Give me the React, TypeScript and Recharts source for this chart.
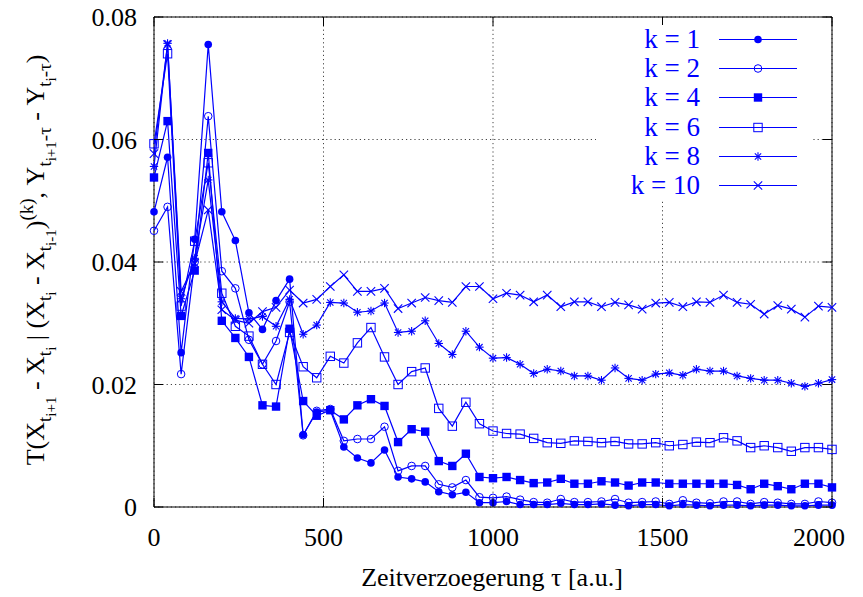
import React from 'react';
import { LineChart, Line, XAxis, YAxis, CartesianGrid, Legend, ReferenceArea } from 'recharts';

const tau = [
  0, 40, 80, 120, 160, 200, 240, 280, 320, 360, 400, 440, 480, 520, 560, 600, 640, 680, 720, 760,
  800, 840, 880, 920, 960, 1000, 1040, 1080, 1120, 1160, 1200, 1240, 1280, 1320, 1360, 1400, 1440,
  1480, 1520, 1560, 1600, 1640, 1680, 1720, 1760, 1800, 1840, 1880, 1920, 1960, 2000,
];

const k1 = [
  0.0482, 0.0571, 0.0252, 0.0437, 0.0755, 0.0482, 0.0435, 0.0317, 0.029, 0.0337, 0.0372,
  0.0118, 0.0155, 0.0158, 0.0098, 0.008, 0.0072, 0.0093, 0.0049, 0.0046, 0.0041,
  0.0025, 0.002, 0.0024, 0.0007, 0.0007, 0.0009, 0.0004, 0.0004, 0.0004, 0.0006,
  0.0004, 0.0004, 0.0005, 0.0003, 0.0002, 0.0004, 0.0004, 0.0002, 0.0004, 0.0003,
  0.0002, 0.0003, 0.0003, 0.0002, 0.0003, 0.0003, 0.0002, 0.0002, 0.0003, 0.0003,
];
const k2 = [
  0.0451, 0.049, 0.0217, 0.04, 0.0638, 0.0385, 0.0357, 0.0273, 0.0233, 0.0271, 0.0335,
  0.0117, 0.0157, 0.016, 0.0108, 0.0111, 0.0111, 0.0131, 0.0059, 0.0067, 0.0067,
  0.0037, 0.0032, 0.0044, 0.0016, 0.0015, 0.0017, 0.0012, 0.0008, 0.0007, 0.0013,
  0.0008, 0.0008, 0.0009, 0.0013, 0.0007, 0.0008, 0.0009, 0.0005, 0.0011, 0.0007,
  0.0006, 0.0009, 0.0009, 0.0005, 0.0008, 0.0007, 0.0005, 0.0005, 0.0009, 0.0007,
];
const k4 = [
  0.0538, 0.063, 0.0312, 0.0386, 0.0578, 0.0304, 0.0276, 0.0245, 0.0166, 0.0164, 0.0291,
  0.0173, 0.0149, 0.0158, 0.0143, 0.0166, 0.0176, 0.0165, 0.0106, 0.0127, 0.0123,
  0.0075, 0.0067, 0.0087, 0.0049, 0.0047, 0.0049, 0.0044, 0.0039, 0.004, 0.0046,
  0.0038, 0.0038, 0.0042, 0.004, 0.0035, 0.004, 0.004, 0.0038, 0.0038, 0.0038,
  0.0038, 0.0038, 0.0036, 0.0029, 0.0038, 0.0034, 0.0029, 0.0038, 0.0038, 0.0032,
];
const k6 = [
  0.0593, 0.074, 0.0328, 0.0434, 0.0562, 0.0349, 0.0295, 0.0279, 0.0233, 0.02, 0.0285,
  0.0229, 0.0211, 0.0246, 0.0235, 0.0268, 0.0293, 0.0245, 0.02, 0.0221, 0.0227,
  0.0161, 0.0132, 0.0171, 0.0136, 0.0124, 0.012, 0.0119, 0.0112, 0.0105, 0.0104,
  0.0108, 0.0107, 0.0105, 0.0107, 0.0103, 0.0103, 0.0105, 0.01, 0.0102, 0.0106,
  0.0105, 0.0113, 0.0108, 0.0097, 0.01, 0.0097, 0.0091, 0.0097, 0.0097, 0.0094,
];
const k8 = [
  0.0556, 0.0757, 0.034, 0.0406, 0.0534, 0.0335, 0.0308, 0.0307, 0.0311, 0.0295, 0.0339,
  0.0282, 0.0297, 0.0334, 0.0333, 0.0318, 0.032, 0.0333, 0.0285, 0.0287, 0.0304,
  0.0267, 0.0249, 0.0287, 0.0261, 0.0243, 0.0244, 0.0233, 0.0218, 0.0225, 0.0222,
  0.0214, 0.0214, 0.0207, 0.0227, 0.021, 0.0207, 0.0217, 0.0219, 0.0215, 0.0225,
  0.0222, 0.0222, 0.0214, 0.021, 0.0207, 0.0207, 0.0202, 0.0197, 0.0202, 0.0208,
];
const k10 = [
  0.0577, 0.0755, 0.0352, 0.0398, 0.0485, 0.0322, 0.0305, 0.03, 0.0319, 0.0326, 0.0354,
  0.0333, 0.0339, 0.036, 0.0379, 0.0352, 0.0352, 0.0357, 0.0324, 0.0333, 0.0342,
  0.0337, 0.0334, 0.036, 0.036, 0.034, 0.0349, 0.0346, 0.0335, 0.0346, 0.0327,
  0.0335, 0.0335, 0.0327, 0.0334, 0.033, 0.0323, 0.0333, 0.0334, 0.0327, 0.0335,
  0.0334, 0.0346, 0.0334, 0.0331, 0.0315, 0.0329, 0.0323, 0.031, 0.0328, 0.0326,
];

const xTicks = [0, 500, 1000, 1500, 2000];
const yTicks = [0, 0.02, 0.04, 0.06, 0.08];

const BLUE = '#0000ff';
const FONT = '"Liberation Serif", "Times New Roman", serif';

const W = 855;
const H = 597;
// plot box in svg pixels; svg sits at page (8, 0)
const PLOT = { left: 146, right: 824, top: 17, bottom: 507 };
const TICK = 9;

type Shape = 'dot' | 'circle' | 'box' | 'square' | 'star' | 'cross';

const series: { key: string; name: string; shape: Shape; vals: number[] }[] = [
  { key: 'k1', name: 'k = 1', shape: 'dot', vals: k1 },
  { key: 'k2', name: 'k = 2', shape: 'circle', vals: k2 },
  { key: 'k4', name: 'k = 4', shape: 'box', vals: k4 },
  { key: 'k6', name: 'k = 6', shape: 'square', vals: k6 },
  { key: 'k8', name: 'k = 8', shape: 'star', vals: k8 },
  { key: 'k10', name: 'k = 10', shape: 'cross', vals: k10 },
];

const data = tau.map((t, i) => {
  const row: Record<string, number> = { tau: t };
  series.forEach((s) => (row[s.key] = s.vals[i]));
  return row;
});

const Marker = ({ shape, cx, cy }: { shape: Shape; cx: number; cy: number }) => {
  const s = 4.2;
  switch (shape) {
    case 'dot':
      return <circle cx={cx} cy={cy} r={3.8} fill={BLUE} />;
    case 'circle':
      return <circle cx={cx} cy={cy} r={3.8} fill="none" stroke={BLUE} strokeWidth={1} />;
    case 'box':
      return <rect x={cx - s} y={cy - s} width={2 * s} height={2 * s} fill={BLUE} />;
    case 'square':
      return <rect x={cx - s} y={cy - s} width={2 * s} height={2 * s} fill="none" stroke={BLUE} strokeWidth={1} />;
    case 'star':
      return (
        <g stroke={BLUE} strokeWidth={1.1}>
          <line x1={cx - s} x2={cx + s} y1={cy} y2={cy} />
          <line x1={cx} x2={cx} y1={cy - s} y2={cy + s} />
          <line x1={cx - s * 0.75} x2={cx + s * 0.75} y1={cy - s * 0.75} y2={cy + s * 0.75} />
          <line x1={cx - s * 0.75} x2={cx + s * 0.75} y1={cy + s * 0.75} y2={cy - s * 0.75} />
        </g>
      );
    default:
      return (
        <g stroke={BLUE} strokeWidth={1.1}>
          <line x1={cx - s} x2={cx + s} y1={cy - s} y2={cy + s} />
          <line x1={cx - s} x2={cx + s} y1={cy + s} y2={cy - s} />
        </g>
      );
  }
};

const dotFor = (shape: Shape) => (p: any) => <Marker key={`${shape}-${p.index}`} shape={shape} cx={p.cx} cy={p.cy} />;

const YTick = (p: any) => {
  const v = p.payload.value as number;
  return (
    <g>
      <line x1={PLOT.left} x2={PLOT.left + TICK} y1={p.y} y2={p.y} stroke="#000" />
      <line x1={PLOT.right - TICK} x2={PLOT.right} y1={p.y} y2={p.y} stroke="#000" />
      <text x={PLOT.left - 17} y={p.y} dy="0.35em" textAnchor="end" fontFamily={FONT} fontSize={26} fill="#000">
        {v === 0 ? '0' : v.toFixed(2)}
      </text>
    </g>
  );
};

const XTick = (p: any) => {
  const last = p.payload.value === xTicks[xTicks.length - 1];
  return (
    <g>
      <line x1={p.x} x2={p.x} y1={PLOT.bottom} y2={PLOT.bottom - TICK} stroke="#000" />
      <line x1={p.x} x2={p.x} y1={PLOT.top} y2={PLOT.top + TICK} stroke="#000" />
      <text
        x={last ? p.x + 13 : p.x}
        y={PLOT.bottom + 39}
        textAnchor={last ? 'end' : 'middle'}
        fontFamily={FONT}
        fontSize={26}
        fill="#000"
      >
        {p.payload.value}
      </text>
    </g>
  );
};

// y label pieces: level 0 normal, 1 subscript, 2 sub-subscript, -1 superscript
const yLabelParts: [string, number][] = [
  ['T(X', 0], ['t', 1], ['i+1', 2], [' - X', 0], ['t', 1], ['i', 2],
  [' | (X', 0], ['t', 1], ['i', 2], [' - X', 0], ['t', 1], ['i-1', 2], [')', 0], ['(k)', -1],
  [', Y', 0], ['t', 1], ['i+1', 2], ['-τ', 1], [' - Y', 0], ['t', 1], ['i', 2], ['-τ', 1], [')', 0],
];
const shift: Record<number, number> = { [-1]: -11, 0: 0, 1: 7, 2: 12 };
const size: Record<number, number> = { [-1]: 19, 0: 26, 1: 19, 2: 15 };

const YLabel = () => {
  const cx = 36;
  const cy = 260;
  let prev = 0;
  return (
    <text x={cx} y={cy} transform={`rotate(-90 ${cx} ${cy})`} textAnchor="middle" fontFamily={FONT} fill="#000">
      {yLabelParts.map(([t, lv], i) => {
        const dy = shift[lv] - shift[prev];
        prev = lv;
        return (
          <tspan key={i} dy={dy} fontSize={size[lv]}>
            {t.replace(/ /g, '\u00a0')}
          </tspan>
        );
      })}
    </text>
  );
};

const XLabel = () => (
  <text x={484} y={586} textAnchor="middle" fontFamily={FONT} fontSize={26} fill="#000">
    Zeitverzoegerung τ [a.u.]
  </text>
);

const renderLegend = () => (
  <div style={{ background: '#fff', width: 217, fontFamily: FONT }}>
    {series.map((s) => (
      <div key={s.key} style={{ display: 'flex', alignItems: 'center', height: 29.2 }}>
        <span style={{ width: 104, textAlign: 'right', color: BLUE, fontSize: 27, lineHeight: '29px', whiteSpace: 'pre' }}>
          {s.name}
        </span>
        <svg width={113} height={29}>
          <line x1={19} x2={97} y1={14.5} y2={14.5} stroke={BLUE} strokeWidth={1.2} />
          <Marker shape={s.shape} cx={58} cy={14.5} />
        </svg>
      </div>
    ))}
  </div>
);

export default function App() {
  return (
    <div style={{ marginTop: -8, width: W, height: H }}>
      <LineChart
        width={W}
        height={H}
        data={data}
        margin={{ top: PLOT.top, right: W - PLOT.right, left: PLOT.left - 60, bottom: H - PLOT.bottom - 40 }}
      >
        <CartesianGrid stroke="#444" strokeDasharray="1.2 3" />
        <XAxis
          dataKey="tau"
          type="number"
          domain={[0, 2000]}
          ticks={xTicks}
          height={40}
          axisLine={false}
          tickLine={false}
          tick={<XTick />}
          interval={0}
          label={{ content: () => <XLabel /> }}
        />
        <YAxis
          type="number"
          domain={[0, 0.08]}
          ticks={yTicks}
          width={60}
          axisLine={false}
          tickLine={false}
          tick={<YTick />}
          interval={0}
          label={{ content: () => <YLabel /> }}
        />
        <ReferenceArea x1={0} x2={2000} y1={0} y2={0.08} fill="none" stroke="#000" strokeWidth={1} />
        {series.map((s) => (
          <Line
            key={s.key}
            dataKey={s.key}
            name={s.name}
            stroke={BLUE}
            strokeWidth={1.2}
            dot={dotFor(s.shape)}
            activeDot={false}
            isAnimationActive={false}
          />
        ))}
        <Legend
          layout="vertical"
          align="center"
          verticalAlign="middle"
          content={renderLegend}
          wrapperStyle={{ left: 588, top: 25, width: 217, height: 175 }}
        />
      </LineChart>
    </div>
  );
}
